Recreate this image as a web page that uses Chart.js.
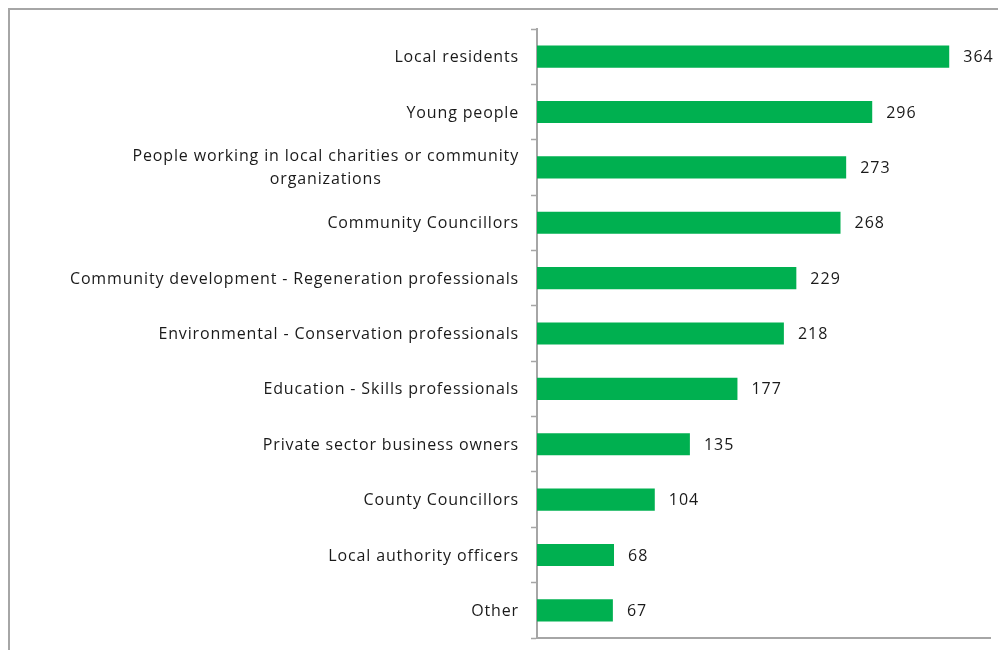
<!DOCTYPE html>
<html>
<head>
<meta charset="utf-8">
<script src="https://cdn.jsdelivr.net/npm/chart.js@4.4.1/dist/chart.umd.min.js"></script>
<style>
  html, body { margin: 0; padding: 0; background: #fff; overflow: hidden; }
  #frame {
    position: absolute; left: 8px; top: 8px; width: 1010px; height: 670px;
    border-left: 2px solid #a6a6a6; border-top: 2px solid #a6a6a6;
  }
  #wrap { position: absolute; left: 0; top: 0; width: 998px; height: 650px; }
</style>
</head>
<body>
<div id="frame"></div>
<div id="wrap"><canvas id="chart"></canvas></div>
<script>
// Who should be involved - number of responses
const categories = [
    'Local residents',
    'Young people',
    ['People working in local charities or community', 'organizations'],
    'Community Councillors',
    'Community development - Regeneration professionals',
    'Environmental - Conservation professionals',
    'Education - Skills professionals',
    'Private sector business owners',
    'County Councillors',
    'Local authority officers',
    'Other'
];
const responses = [364, 296, 273, 268, 229, 218, 177, 135, 104, 68, 67];
const axisMax = 400;

const labelFont = '16px "Open Sans", Lato, sans-serif';
const textColor = '#1a1a1a';

// Category names: right edge against the axis, wrapped lines centred on each other
const categoryLabels = {
    id: 'categoryLabels',
    afterDraw(chart) {
        const ctx = chart.ctx;
        const yScale = chart.scales.y;
        const right = yScale.right - 18;
        const lineH = 23;
        ctx.save();
        ctx.font = labelFont;
        ctx.letterSpacing = '0.85px';
        ctx.fillStyle = textColor;
        ctx.textBaseline = 'middle';
        ctx.textAlign = 'center';
        categories.forEach((label, i) => {
            const lines = Array.isArray(label) ? label : [label];
            const widest = Math.max(...lines.map(l => ctx.measureText(l).width));
            const cx = right - widest / 2;
            const y0 = yScale.getPixelForTick(i) + 1 - (lines.length - 1) * lineH / 2;
            lines.forEach((line, j) => ctx.fillText(line, cx, y0 + j * lineH));
        });
        ctx.restore();
    }
};

// Writes the count just past the end of each bar
const valueLabels = {
    id: 'valueLabels',
    afterDatasetsDraw(chart) {
        const ctx = chart.ctx;
        const meta = chart.getDatasetMeta(0);
        ctx.save();
        ctx.font = labelFont;
        ctx.letterSpacing = '1px';
        ctx.fillStyle = textColor;
        ctx.textAlign = 'left';
        ctx.textBaseline = 'middle';
        meta.data.forEach((bar, i) => {
            ctx.fillText(String(responses[i]), bar.x + 14, bar.y + 1);
        });
        ctx.restore();
    }
};

document.addEventListener('DOMContentLoaded', function() {
    const ctx = document.getElementById('chart').getContext('2d');
    new Chart(ctx, {
        type: 'bar',
        data: {
            labels: categories,
            datasets: [{
                data: responses,
                backgroundColor: '#00b050',
                borderWidth: 0,
                barPercentage: 0.4,
                categoryPercentage: 1.0
            }]
        },
        options: {
            indexAxis: 'y',
            responsive: true,
            maintainAspectRatio: false,
            animation: false,
            layout: { padding: { top: 29, right: 8, bottom: 12, left: 0 } },
            scales: {
                x: {
                    min: 0,
                    max: axisMax,
                    ticks: { display: false },
                    grid: { display: false, drawTicks: false },
                    border: { display: true, color: '#a6a6a6', width: 2 }
                },
                y: {
                    ticks: { display: false },
                    grid: {
                        offset: true,
                        drawOnChartArea: false,
                        tickLength: 6,
                        tickColor: '#a6a6a6',
                        tickWidth: 1.5
                    },
                    border: { display: true, color: '#a6a6a6', width: 2 },
                    afterFit(scale) { scale.width = 537; }
                }
            },
            plugins: {
                legend: { display: false },
                tooltip: { enabled: false }
            }
        },
        plugins: [valueLabels, categoryLabels]
    });
});
</script>
</body>
</html>
